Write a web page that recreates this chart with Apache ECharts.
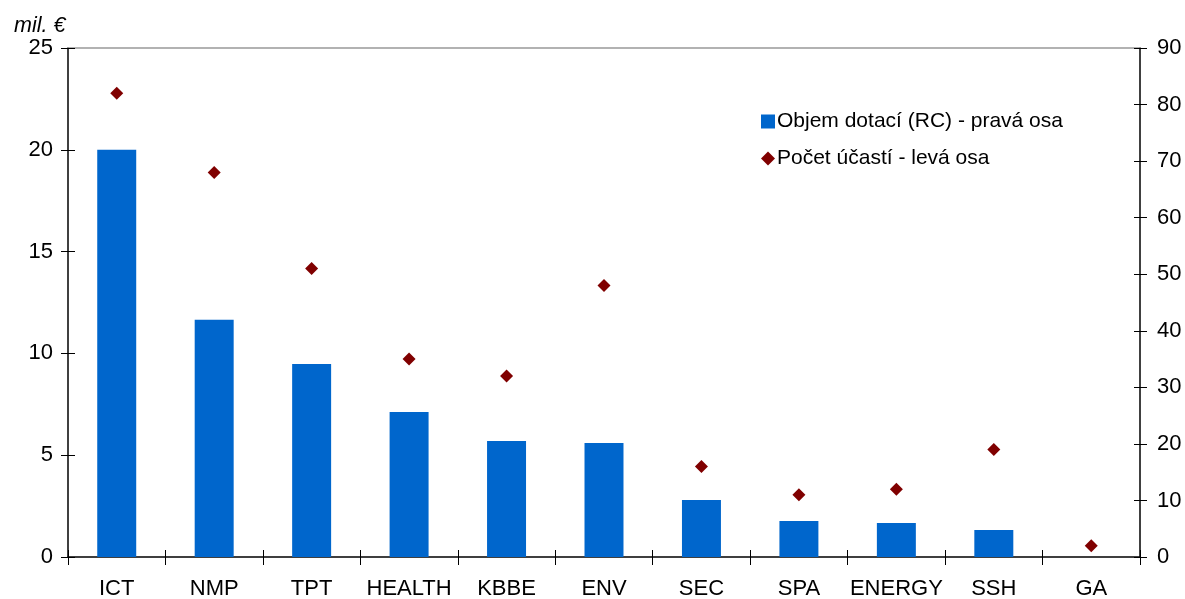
<!DOCTYPE html>
<html>
<head>
<meta charset="utf-8">
<script src="https://cdn.jsdelivr.net/npm/echarts@6/dist/echarts.min.js"></script>
<style>html,body{margin:0;padding:0;background:#fff;}#c{width:1185px;height:599px;}</style>
</head>
<body>
<div id="c"></div>
<script>
const categories = ['ICT','NMP','TPT','HEALTH','KBBE','ENV','SEC','SPA','ENERGY','SSH','GA'];
const fundingValues = [20.0, 11.65, 9.48, 7.12, 5.70, 5.60, 2.80, 1.77, 1.67, 1.33, 0];
const participationValues = [82, 68, 51, 35, 32, 48, 16, 11, 12, 19, 2];
const leftTicks = [0, 5, 10, 15, 20, 25];
const rightTicks = [0, 10, 20, 30, 40, 50, 60, 70, 80, 90];
const seriesNames = ['Objem dotací (RC) - pravá osa', 'Počet účastí - levá osa'];

const FONT = 'Liberation Sans, Arial, sans-serif';
const chart = echarts.init(document.getElementById('c'));
const lblStyle = {color:'#000', fontSize:22, fontFamily:FONT};
const gridBox = {left:68, right:45, top:48, bottom:42, containLabel:false, outerBoundsMode:'none'};
chart.setOption({
  animation:false,
  backgroundColor:'#fff',
  grid:[{...gridBox}, {...gridBox}],
  title:{text:'mil. €', left:9, top:10, textStyle:{fontSize:21.5, fontStyle:'italic', fontWeight:'normal', fontFamily:FONT, color:'#000'}},
  legend:{
    orient:'vertical', left:756, top:106, itemGap:16, itemWidth:14, itemHeight:14,
    textStyle:{fontSize:21, fontFamily:FONT, color:'#000', padding:[0,0,0,-3]},
    data:[{name:seriesNames[0], icon:'rect'},{name:seriesNames[1], icon:'diamond'}]
  },
  xAxis:[
    {type:'category', data:categories, position:'bottom', gridIndex:0,
     axisLine:{onZero:false, lineStyle:{color:'#000', width:1.5}},
     axisTick:{show:true, length:8, lineStyle:{color:'#000'}},
     axisLabel:{...lblStyle, margin:21, interval:0}},
    {type:'category', data:categories, position:'bottom', gridIndex:1,
     axisLine:{show:false, onZero:false}, axisTick:{show:true, inside:true, length:7, lineStyle:{color:'#000'}},
     axisLabel:{show:false}},
    {type:'category', data:categories, position:'top', gridIndex:1,
     axisLine:{show:true, onZero:false, lineStyle:{color:'#999', width:1.5}}, axisTick:{show:false}, axisLabel:{show:false}}
  ],
  yAxis:[
    {type:'value', gridIndex:0, min:leftTicks[0], max:leftTicks[leftTicks.length-1], interval:5, position:'left',
     axisLine:{show:true, onZero:false, lineStyle:{color:'#000', width:1.5}},
     axisTick:{show:true, length:7, lineStyle:{color:'#000'}},
     splitLine:{show:false}, axisLabel:{...lblStyle, margin:15}},
    {type:'value', gridIndex:0, min:rightTicks[0], max:rightTicks[rightTicks.length-1], interval:10, position:'right',
     axisLine:{show:true, onZero:false, lineStyle:{color:'#000', width:1.5}},
     axisTick:{show:true, length:7, lineStyle:{color:'#000'}},
     splitLine:{show:false}, axisLabel:{...lblStyle, margin:17}},
    {type:'value', gridIndex:1, min:leftTicks[0], max:leftTicks[leftTicks.length-1], interval:5, position:'left',
     axisLine:{show:false, onZero:false}, axisTick:{show:true, inside:true, length:7, lineStyle:{color:'#000'}},
     splitLine:{show:false}, axisLabel:{show:false}},
    {type:'value', gridIndex:1, min:rightTicks[0], max:rightTicks[rightTicks.length-1], interval:10, position:'right',
     axisLine:{show:false, onZero:false}, axisTick:{show:true, inside:true, length:6, lineStyle:{color:'#000'}},
     splitLine:{show:false}, axisLabel:{show:false}}
  ],
  series:[
    {name:seriesNames[0], type:'bar', xAxisIndex:0, yAxisIndex:0, data:fundingValues,
     barWidth:'40%', itemStyle:{color:'#0066CC'}},
    {name:seriesNames[1], type:'scatter', xAxisIndex:0, yAxisIndex:1, data:participationValues,
     symbol:'diamond', symbolSize:13, itemStyle:{color:'#800000', opacity:1}}
  ]
});
</script>
</body>
</html>
